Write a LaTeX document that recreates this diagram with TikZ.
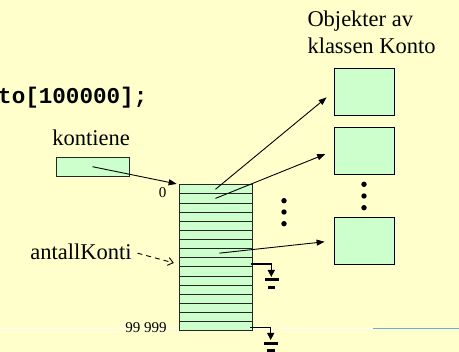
\documentclass[tikz,border=0pt]{standalone}
\usepackage{fontspec}
\setmainfont{Liberation Serif}
\setmonofont{Liberation Mono}
\usetikzlibrary{arrows.meta}
\definecolor{slidebg}{HTML}{FFFFCC}
\definecolor{cellgreen}{HTML}{CCFFCC}
\definecolor{ruleblue}{HTML}{6FA8DC}
\begin{document}
\begin{tikzpicture}[x=1pt,y=-1pt,
  cell/.style={rectangle,draw=black!85,fill=cellgreen,line width=0.8pt,
    minimum width=73pt,minimum height=9.125pt,inner sep=0pt},
  objbox/.style={rectangle,draw=black,fill=cellgreen,line width=0.9pt,
    minimum width=60pt,minimum height=47pt,inner sep=0pt},
  refbox/.style={rectangle,draw=black!85,fill=cellgreen,line width=0.8pt,
    minimum width=73pt,minimum height=19pt,inner sep=0pt},
  lbl/.style={inner sep=0pt,font=\fontsize{22.5}{27}\selectfont},
  idx/.style={inner sep=0pt,anchor=base east,font=\fontsize{15}{18}\selectfont},
  ptr/.style={line width=0.9pt,-{Triangle[length=8pt,width=6pt]}},
  nullptr/.style={-{Triangle[length=7pt,width=7pt]}},
  earth/.style={line width=3pt},
  vdot/.style={fill=black}]
  \clip (0,0) rectangle (459,352);
  \fill[slidebg] (0,0) rectangle (459,352);

  % rule from the slide layout
  \draw[white,line width=1pt] (0,328.3) -- (372.7,328.3);
  \draw[ruleblue,line width=1pt] (372.7,328.3) -- (459,328.3);

  % declaration
  \node[anchor=base west,inner sep=0pt,
    font=\ttfamily\bfseries\fontsize{22.6}{26}\selectfont] (decl) at (-2,104) {to[100000];};

  % reference variable
  \node[lbl,anchor=base] (kontlbl) at (91,146) {kontiene};
  \node[refbox] (kont) at (92.5,166.7) {};

  % array cells 0 .. 99 999
  \foreach \i in {0,...,15}
    \node[cell] (r\i) at (215.5,{184.7+(\i+0.5)*9.125}) {};
  \node[idx] (first) at (166.5,198) {0};
  \node[idx] (last) at (166.7,333) {99 999};

  % objects
  \node[lbl,anchor=base west,align=left] (objlbl) at (307.3,54) {Objekter av\\klassen Konto};
  \node[objbox] (o1) at (364,91.7) {};
  \node[objbox] (o2) at (364,150.8) {};
  \node[objbox] (o3) at (364,240.8) {};

  \foreach \y in {184.3,196,207.7} \fill[vdot] (364,\y) circle (2.7);
  \foreach \y in {200.7,212,223.7} \fill[vdot] (284,\y) circle (2.7);

  % references
  \draw[ptr,shorten >=2pt] (kont.center) -- (r0.north west);
  \draw[ptr,shorten >=9pt] (r0.center) -- (o1.west);
  \draw[ptr,shorten >=9pt] (r1.center) -- (o2.west);
  \draw[ptr,shorten >=9pt] ([xshift=4pt]r7.center) -- (o3.west);

  % counter
  \node[lbl,anchor=base east] (ak) at (131.7,259.3) {antallKonti};
  \draw[line width=0.9pt,dash pattern=on 5pt off 4pt,-{Straight Barb[length=5pt,width=8pt]},
    shorten <=6pt,shorten >=5pt] (ak.east) -- ([yshift=-2pt]r8.west);

  % null references
  \coordinate (g1) at (271.3,277);
  \draw[nullptr,line width=1.6pt] ([xshift=-1.5pt,yshift=-1.5pt]r8.east) -| (g1);
  \draw[earth] (265,280) -- (279,280);
  \draw[earth] (268,287.3) -- (275,287.3);

  \coordinate (g2) at (270.7,340);
  \draw[nullptr,line width=1pt] ([xshift=-2pt,yshift=-1pt]r15.east) -| (g2);
  \draw[earth] (264,344) -- (278,344);
  \draw[earth] (267,351) -- (275,351);
\end{tikzpicture}
\end{document}
